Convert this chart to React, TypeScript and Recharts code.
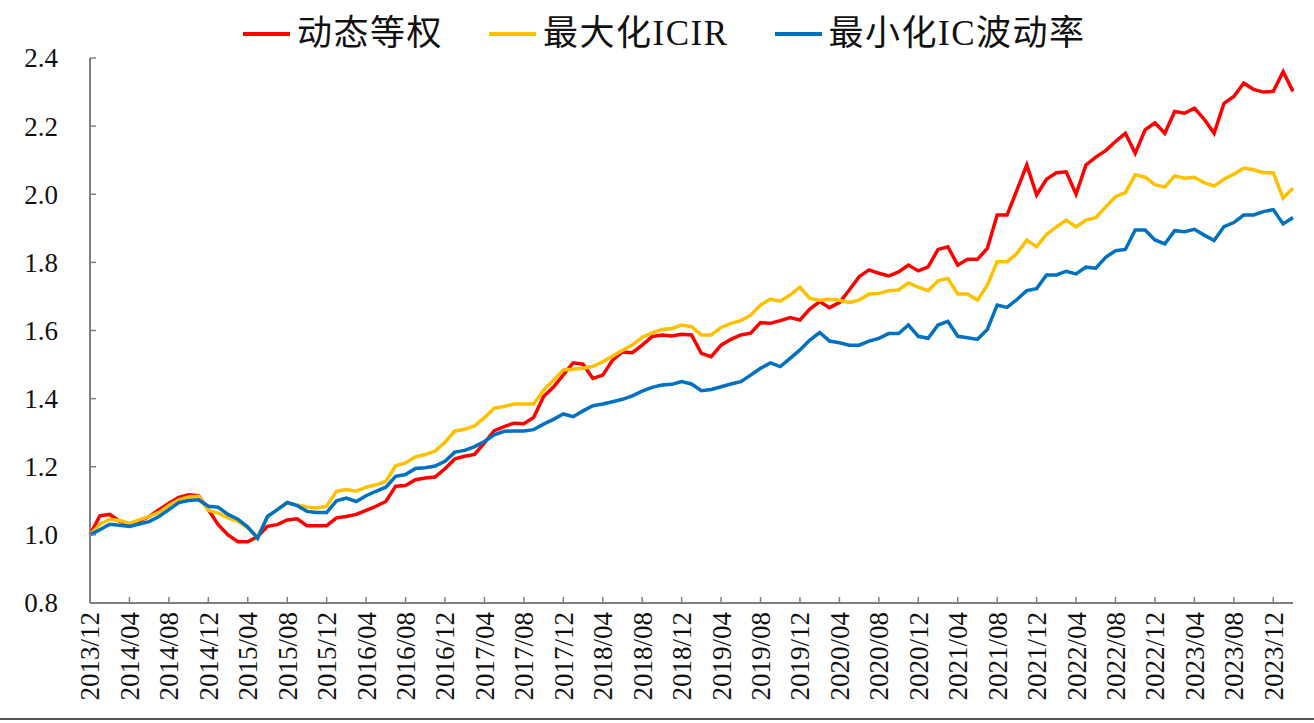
import { LineChart, Line, XAxis, YAxis, Legend } from 'recharts';

// 月份：2013/12 - 2024/02
const MONTHS: string[] = [];
for (let k = 0; k < 123; k++) {
  const total = 2013 * 12 + 11 + k;
  const yr = Math.floor(total / 12);
  const mo = (total % 12) + 1;
  MONTHS.push(`${yr}/${mo < 10 ? '0' + mo : mo}`);
}

const DYNAMIC_EQUAL = [
  1.0, 1.056, 1.06, 1.04, 1.03, 1.04, 1.054, 1.074, 1.093, 1.11, 1.118, 1.115,
  1.074, 1.03, 1.0, 0.98, 0.98, 0.995, 1.025, 1.03, 1.044, 1.047, 1.027, 1.027,
  1.027, 1.05, 1.054, 1.06, 1.072, 1.084, 1.098, 1.143, 1.145, 1.162, 1.167, 1.17,
  1.194, 1.223, 1.231, 1.236, 1.27, 1.306, 1.318, 1.328, 1.326, 1.345, 1.406, 1.434,
  1.47, 1.505, 1.501, 1.459, 1.469, 1.513, 1.537, 1.535, 1.557, 1.582, 1.587, 1.584,
  1.589, 1.587, 1.533, 1.523, 1.557, 1.574, 1.587, 1.592, 1.623, 1.621, 1.629, 1.638,
  1.631, 1.663, 1.685, 1.667, 1.682, 1.719, 1.758, 1.778, 1.768, 1.76, 1.772, 1.792,
  1.775, 1.787, 1.838, 1.846, 1.792, 1.809, 1.809, 1.841, 1.939, 1.939, 2.012, 2.086,
  1.998, 2.044, 2.063, 2.066, 2.0, 2.086, 2.109, 2.128, 2.155, 2.179, 2.12, 2.189,
  2.21, 2.179, 2.243, 2.238, 2.253, 2.22, 2.179, 2.267, 2.287, 2.326, 2.308, 2.3,
  2.302, 2.36, 2.302,
];

const MAX_ICIR = [
  1.0, 1.031, 1.046, 1.042, 1.034, 1.044, 1.054, 1.066, 1.086, 1.103, 1.111, 1.113,
  1.072, 1.064, 1.05, 1.04, 1.02, 0.995, 1.054, 1.074, 1.095, 1.088, 1.082, 1.079,
  1.084, 1.128, 1.133, 1.128, 1.14, 1.147, 1.157, 1.203, 1.211, 1.229, 1.236, 1.246,
  1.272, 1.305, 1.31, 1.32, 1.344, 1.372, 1.377, 1.384, 1.384, 1.384, 1.425, 1.454,
  1.484, 1.486, 1.489, 1.495, 1.508, 1.525, 1.542, 1.557, 1.58, 1.593, 1.603, 1.606,
  1.616, 1.611, 1.587, 1.587, 1.609, 1.621, 1.629, 1.645, 1.675, 1.692, 1.686, 1.704,
  1.727, 1.694, 1.689, 1.692, 1.689, 1.682, 1.689, 1.707, 1.709, 1.717, 1.719, 1.74,
  1.727, 1.717, 1.746, 1.753, 1.707, 1.707, 1.689, 1.733, 1.802, 1.802, 1.826, 1.865,
  1.846, 1.882, 1.904, 1.924, 1.904, 1.924, 1.931, 1.963, 1.993, 2.005, 2.057, 2.05,
  2.028, 2.021, 2.054, 2.047, 2.05, 2.034, 2.024, 2.044, 2.059, 2.077, 2.072, 2.063,
  2.063, 1.989, 2.018,
];

const MIN_IC_VOL = [
  1.0, 1.015, 1.031, 1.028, 1.025, 1.032, 1.039, 1.054, 1.074, 1.095, 1.101, 1.103,
  1.084, 1.081, 1.06, 1.046, 1.023, 0.99, 1.054, 1.074, 1.095, 1.086, 1.069, 1.066,
  1.066, 1.1, 1.108, 1.098, 1.115, 1.128, 1.14, 1.172, 1.177, 1.195, 1.197, 1.202,
  1.216, 1.243, 1.248, 1.259, 1.274, 1.294, 1.304, 1.305, 1.305, 1.309, 1.325, 1.339,
  1.355, 1.347, 1.364, 1.379, 1.384, 1.391, 1.398, 1.408, 1.422, 1.433, 1.44, 1.442,
  1.45, 1.443, 1.423, 1.427, 1.435, 1.443, 1.45, 1.469, 1.489, 1.505, 1.494, 1.518,
  1.543, 1.572, 1.594, 1.569, 1.564, 1.557, 1.557, 1.569, 1.577, 1.591, 1.591, 1.616,
  1.583, 1.577, 1.616, 1.627, 1.583, 1.579, 1.574, 1.603, 1.675, 1.668, 1.691, 1.717,
  1.723, 1.763, 1.763, 1.774, 1.766, 1.786, 1.783, 1.815, 1.834, 1.838, 1.895, 1.895,
  1.866, 1.854, 1.893, 1.89, 1.897, 1.88, 1.864, 1.905, 1.917, 1.939, 1.939, 1.949,
  1.955, 1.913, 1.932,
];

const Y_TICKS = [0.8, 1.0, 1.2, 1.4, 1.6, 1.8, 2.0, 2.2, 2.4];

const SERIES = [
  { key: 'dyn', name: '动态等权', color: '#FF0000', values: DYNAMIC_EQUAL },
  { key: 'icir', name: '最大化ICIR', color: '#FFC000', values: MAX_ICIR },
  { key: 'vol', name: '最小化IC波动率', color: '#0070C0', values: MIN_IC_VOL },
];

const data = MONTHS.map((m, i) => ({
  month: m,
  dyn: DYNAMIC_EQUAL[i],
  icir: MAX_ICIR[i],
  vol: MIN_IC_VOL[i],
}));

const FONT = '"Liberation Serif", "Noto Sans CJK SC", serif';
const AXIS = '#7f7f7f';

function XTick(props: any) {
  const { x, y, payload } = props;
  const ty = y + 9;
  return (
    <g>
      <line x1={x} y1={y} x2={x} y2={y - 6} stroke={AXIS} strokeWidth={1.5} />
      <text
        x={x}
        y={ty}
        transform={`rotate(-90 ${x} ${ty})`}
        textAnchor="end"
        dy="0.35em"
        fill="#111"
        fontSize={27}
        fontFamily={FONT}
      >
        {payload.value}
      </text>
    </g>
  );
}

function YTick(props: any) {
  const { x, y, payload } = props;
  return (
    <g>
      <line x1={x} y1={y} x2={x + 6} y2={y} stroke={AXIS} strokeWidth={1.5} />
      <text x={x - 32} y={y} dy="0.35em" textAnchor="end" fill="#111" fontSize={27} fontFamily={FONT}>
        {Number(payload.value).toFixed(1)}
      </text>
    </g>
  );
}

function LegendBox() {
  return (
    <div style={{ display: 'flex', justifyContent: 'flex-start', paddingLeft: 243, fontFamily: FONT }}>
      {SERIES.map((s, i) => (
        <div key={s.key} style={{ display: 'flex', alignItems: 'center', marginLeft: i === 0 ? 0 : 46 }}>
          <span style={{ display: 'inline-block', width: 47, height: 4, background: s.color, marginRight: 7 }} />
          <span style={{ fontSize: 35, letterSpacing: 1.5, color: '#111', lineHeight: '40px' }}>{s.name}</span>
        </div>
      ))}
    </div>
  );
}

export default function App() {
  return (
    <div style={{ position: 'absolute', left: 0, top: 0, width: 1314, height: 723, background: '#fff' }}>
      <LineChart width={1314} height={723} data={data} margin={{ top: 58, right: 21, bottom: 10, left: 0 }}>
        <Legend
          verticalAlign="middle"
          align="center"
          layout="horizontal"
          wrapperStyle={{ top: 14, left: 0, width: 1314 }}
          content={() => <LegendBox />}
        />
        <XAxis
          dataKey="month"
          interval={3}
          height={110}
          tickSize={0}
          tickMargin={0}
          tickLine={false}
          tick={<XTick />}
          axisLine={{ stroke: AXIS, strokeWidth: 2 }}
        />
        <YAxis
          width={90}
          domain={[0.8, 2.4]}
          ticks={Y_TICKS}
          tickSize={0}
          tickMargin={0}
          tickLine={false}
          tick={<YTick />}
          axisLine={{ stroke: AXIS, strokeWidth: 2 }}
          allowDataOverflow
        />
        {SERIES.map((s) => (
          <Line
            key={s.key}
            type="linear"
            dataKey={s.key}
            name={s.name}
            stroke={s.color}
            strokeWidth={3.5}
            dot={false}
            isAnimationActive={false}
          />
        ))}
      </LineChart>
      <div style={{ position: 'absolute', left: 0, top: 718, width: 1314, height: 2, background: '#555' }} />
    </div>
  );
}
